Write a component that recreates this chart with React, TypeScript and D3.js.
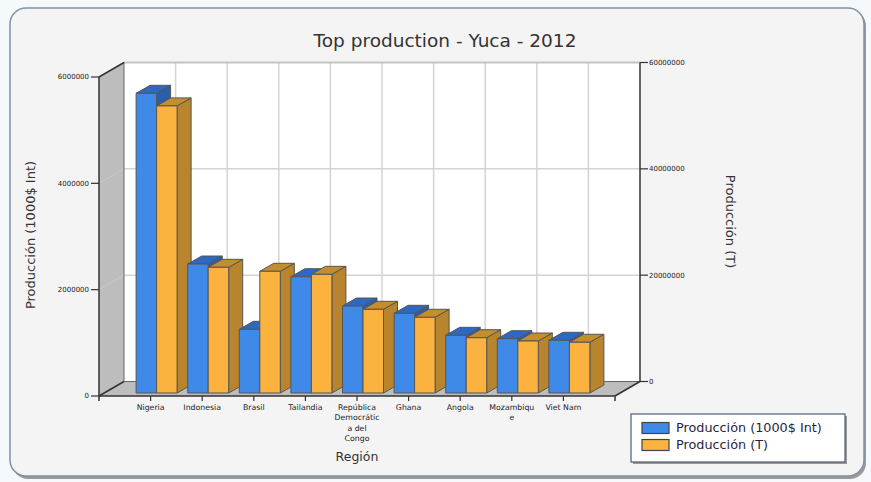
import React from "react";
import * as d3 from "d3";

const categories = ["Nigeria", "Indonesia", "Brasil", "Tailandia", "República Democrática del Congo", "Ghana", "Angola", "Mozambique", "Viet Nam"];
const categoryLines = [["Nigeria"], ["Indonesia"], ["Brasil"], ["Tailandia"], ["República", "Democrátic", "a del", "Congo"], ["Ghana"], ["Angola"], ["Mozambiqu", "e"], ["Viet Nam"]];
const valueIntl = [5637000, 2426000, 1198000, 2187000, 1636000, 1499000, 1085000, 1021000, 991000];
const valueTonnes = [54000000, 23640000, 22890000, 22320000, 15740000, 14240000, 10400000, 9780000, 9540000];
const leftTicks = [0, 2000000, 4000000, 6000000];
const rightTicks = [0, 20000000, 40000000, 60000000];
const seriesNames = ["Producción (1000$ Int)", "Producción (T)"];

const W = 871, H = 482;
const FL = 99, FR = 615; // front plane x
const DX = 25, DY = -14.5; // wall depth
const BOX = 6, BOY = -3; // bar front offset
const BDX = 14, BDY = -8; // bar depth
const BW = 20.5;
const FONT = "'DejaVu Sans', Verdana, sans-serif";

const yL = d3.scaleLinear().domain([0, 6000000]).range([396, 77]);
const yR = d3.scaleLinear().domain([0, 60000000]).range([396 + DY, 77 + DY]);
const x = d3.scalePoint<string>().domain(categories).range([FL, FR]).padding(1);

const blue = { front: "#3f8ae9", top: "#2d69c2", side: "#2a5fae" };
const orange = { front: "#fbb23f", top: "#c48d2e", side: "#b8852e" };

function Bar3D({ x0, yTop, yBase, c }: { x0: number; yTop: number; yBase: number; c: { front: string; top: string; side: string } }) {
  const x1 = x0 + BW;
  const stroke = "#555";
  return (
    <g strokeWidth={1} stroke={stroke} strokeLinejoin="round">
      <polygon points={`${x1},${yTop} ${x1 + BDX},${yTop + BDY} ${x1 + BDX},${yBase + BDY} ${x1},${yBase}`} fill={c.side} />
      <polygon points={`${x0},${yTop} ${x0 + BDX},${yTop + BDY} ${x1 + BDX},${yTop + BDY} ${x1},${yTop}`} fill={c.top} />
      <rect x={x0} y={yTop} width={BW} height={yBase - yTop} fill={c.front} />
    </g>
  );
}

export default function App() {
  const y0 = yL(0);
  const yTop = yL(6000000);
  const barBase = y0 + BOY;
  return (
    <svg width={W} height={H} style={{ position: "absolute", left: 0, top: 0, fontFamily: FONT }}>
      <rect x={0} y={0} width={W} height={H} fill="#f6f9fc" />
      <rect x={12} y={10} width={854} height={469} rx={16} fill="#9a9a9a" />
      <rect x={10} y={8} width={854} height={468} rx={16} fill="#f4f4f4" stroke="#7f90a8" strokeWidth={1.5} />

      <text x={445} y={47} textAnchor="middle" fontSize={18.5} fill="#333">Top production - Yuca - 2012</text>

      {/* back wall */}
      <rect x={FL + DX} y={yTop + DY} width={FR - FL} height={y0 - yTop} fill="#ffffff" />
      {/* vertical grid on back wall */}
      {categories.map((c) => (
        <line key={c} x1={x(c)! + DX} x2={x(c)! + DX} y1={yTop + DY} y2={y0 + DY} stroke="#d4d4d4" strokeWidth={1.5} />
      ))}
      {leftTicks.slice(1, 3).map((t) => (
        <line key={t} x1={FL + DX} x2={FR + DX} y1={yL(t) + DY} y2={yL(t) + DY} stroke="#d4d4d4" strokeWidth={1.5} />
      ))}
      <line x1={FL + DX} x2={FR + DX} y1={yTop + DY} y2={yTop + DY} stroke="#c4c4c4" strokeWidth={2} />
      {/* left wall */}
      <polygon points={`${FL},${yTop} ${FL + DX},${yTop + DY} ${FL + DX},${y0 + DY} ${FL},${y0}`} fill="#bdbdbd" />
      {leftTicks.slice(1, 3).map((t) => (
        <line key={t} x1={FL} x2={FL + DX} y1={yL(t)} y2={yL(t) + DY} stroke="#c9c9c9" strokeWidth={1} />
      ))}
      {/* floor */}
      <polygon points={`${FL},${y0} ${FL + DX},${y0 + DY} ${FR + DX},${y0 + DY} ${FR},${y0}`} fill="#bdbdbd" />
      <polyline points={`${FL + DX},${yTop + DY} ${FL + DX},${y0 + DY} ${FR + DX},${y0 + DY}`} fill="none" stroke="#666" strokeWidth={1} />

      {/* bars */}
      {categories.map((c, i) => {
        const cx = x(c)! + BOX;
        return (
          <g key={c}>
            <Bar3D x0={cx - BW} yTop={yL(valueIntl[i]) + BOY} yBase={barBase} c={blue} />
            <Bar3D x0={cx} yTop={yR(valueTonnes[i]) - DY + BOY} yBase={barBase} c={orange} />
          </g>
        );
      })}

      {/* axis lines */}
      <g stroke="#333" strokeWidth={1.5} fill="none">
        <line x1={FL} x2={FL} y1={yTop} y2={y0 + 5} />
        <line x1={FL} x2={FL + DX} y1={yTop} y2={yTop + DY} />
        <line x1={FL} x2={FL + DX} y1={y0} y2={y0 + DY} />
        <line x1={FL} x2={FR} y1={y0} y2={y0} />
        <line x1={FR} x2={FR + DX} y1={y0} y2={y0 + DY} />
        <line x1={FR} x2={FR} y1={y0} y2={y0 + 5} />
        <line x1={FR + DX} x2={FR + DX} y1={yTop + DY} y2={y0 + DY} />
      </g>

      {/* left ticks */}
      {leftTicks.map((t) => (
        <g key={t}>
          <line x1={FL - 8} x2={FL} y1={yL(t)} y2={yL(t)} stroke="#333" strokeWidth={1.2} />
          <text x={FL - 10} y={yL(t)} dy="0.35em" textAnchor="end" fontSize={7} fill="#222">{t}</text>
        </g>
      ))}
      {/* right ticks */}
      {rightTicks.map((t) => (
        <g key={t}>
          <line x1={FR + DX} x2={FR + DX + 8} y1={yR(t)} y2={yR(t)} stroke="#333" strokeWidth={1.2} />
          <text x={FR + DX + 9} y={yR(t)} dy="0.35em" textAnchor="start" fontSize={7} fill="#222">{t}</text>
        </g>
      ))}
      {/* category ticks & labels */}
      {categories.map((c, i) => (
        <g key={c}>
          <line x1={x(c)!} x2={x(c)!} y1={y0} y2={y0 + 5} stroke="#333" strokeWidth={1.2} />
          {categoryLines[i].map((ln, j) => (
            <text key={j} x={x(c)!} y={407 + j * 10.5} dy="0.35em" textAnchor="middle" fontSize={7.8} fill="#222">{ln}</text>
          ))}
        </g>
      ))}

      {/* axis titles */}
      <text x={357} y={457} dy="0.35em" textAnchor="middle" fontSize={12.5} fill="#333">Región</text>
      <text transform={`translate(30,235) rotate(-90)`} dy="0.35em" textAnchor="middle" fontSize={13} fill="#333">{seriesNames[0]}</text>
      <text transform={`translate(731,221.5) rotate(90)`} dy="0.35em" textAnchor="middle" fontSize={13} fill="#333">{seriesNames[1]}</text>

      {/* legend */}
      <rect x={633} y={416} width={214} height={48} fill="#9a9a9a" />
      <rect x={631} y={414} width={214} height={48} fill="#fff" stroke="#4d5c73" strokeWidth={1.2} />
      {[blue, orange].map((c, i) => (
        <g key={i}>
          <rect x={642} y={422.5 + i * 17} width={27} height={11} fill={c.front} stroke="#444" strokeWidth={1.2} />
          <text x={676} y={428 + i * 16.5} dy="0.35em" fontSize={12.8} fill="#2a1f3d">{seriesNames[i]}</text>
        </g>
      ))}
    </svg>
  );
}
